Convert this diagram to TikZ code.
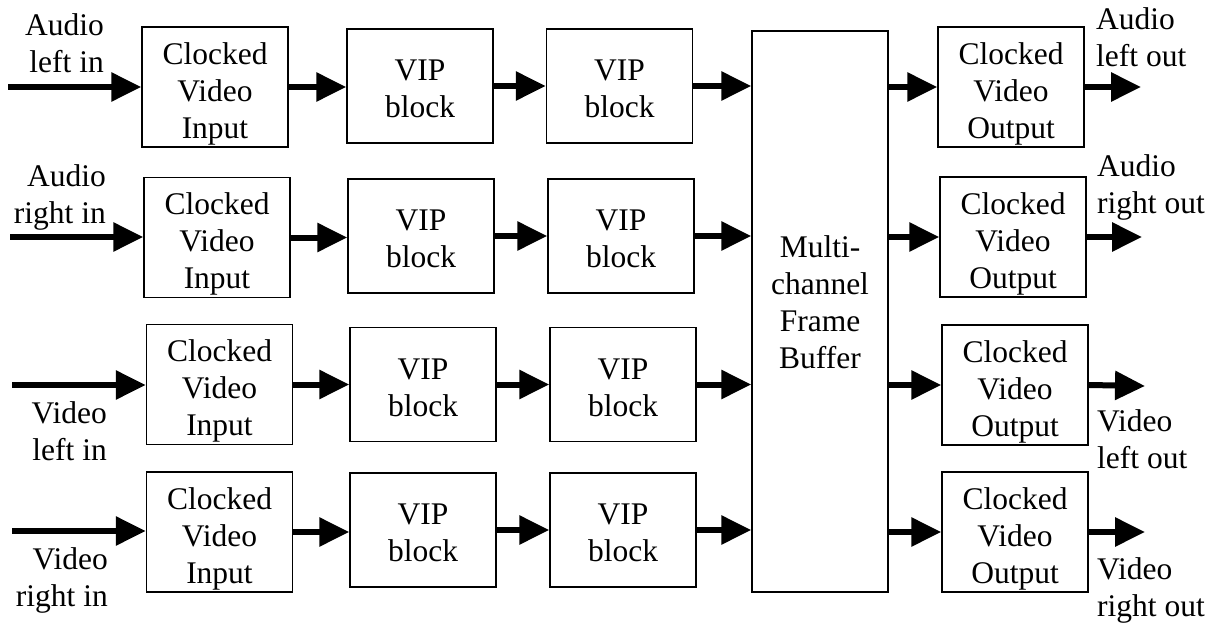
\documentclass[tikz,border=0pt]{standalone}
\usepackage{fontspec}
\setmainfont{Liberation Serif}
\usetikzlibrary{arrows.meta}

\tikzset{
  txt/.style={align=center, inner sep=0pt},
  blk/.style={draw, line width=1.5pt, inner sep=0pt,
    minimum width=146pt, minimum height=120pt,
    label={[txt, yshift=-6.5pt]center:#1}},
  vip/.style={draw, line width=1.5pt, inner sep=0pt,
    minimum width=146pt, minimum height=114pt,
    label={[txt, yshift=-3pt]center:VIP\\block}},
  inlbl/.style={inner sep=0pt, anchor=north east, align=right},
  outlbl/.style={inner sep=0pt, anchor=north west, align=left},
  flow/.style={line width=6pt, -{Triangle[length=30pt,width=28pt]}}
}

\begin{document}
\begin{tikzpicture}[x=1pt,y=-1pt,font=\fontsize{31.5}{37}\selectfont]
\useasboundingbox (0,0) rectangle (1212,623);
% input blocks
\node[blk={Clocked\\Video\\Input}] (cvi1) at (215,87) {};
\node[blk={Clocked\\Video\\Input}] (cvi2) at (217,237.5) {};
\node[blk={Clocked\\Video\\Input}] (cvi3) at (219.5,384.5) {};
\node[blk={Clocked\\Video\\Input}] (cvi4) at (219.5,532) {};
% VIP blocks
\node[vip] (vipa1) at (420,86) {};
\node[vip] (vipb1) at (619.5,86) {};
\node[vip] (vipa2) at (421,236) {};
\node[vip] (vipb2) at (621,236) {};
\node[vip] (vipa3) at (423,384.5) {};
\node[vip] (vipb3) at (623,384.5) {};
\node[vip] (vipa4) at (423,530) {};
\node[vip] (vipb4) at (623,530) {};
% frame buffer
\node[draw, line width=1.5pt, minimum width=136pt, minimum height=561pt] (fb) at (820,311.5) {};
\node[txt] (fbtxt) at (820,302) {Multi-\\channel\\Frame\\Buffer};
% output blocks
\node[blk={Clocked\\Video\\Output}] (cvo1) at (1011,87) {};
\node[blk={Clocked\\Video\\Output}] (cvo2) at (1013,237) {};
\node[blk={Clocked\\Video\\Output}] (cvo3) at (1015,385) {};
\node[blk={Clocked\\Video\\Output}] (cvo4) at (1015,532) {};
% free ends
\coordinate (src1) at (8,87);
\coordinate (src2) at (10,237);
\coordinate (src3) at (12,385);
\coordinate (src4) at (12,531);
\coordinate (dst1) at (1141,87);
\coordinate (dst2) at (1142,237);
\coordinate (dst3) at (1145,386);
\coordinate (dst4) at (1145,532);
% labels
\node[inlbl] (lin1) at (104,13) {Audio\\left in};
\node[inlbl] (lin2) at (106,164.5) {Audio\\right in};
\node[inlbl] (lin3) at (107,401.5) {Video\\left in};
\node[inlbl] (lin4) at (108,547.5) {Video\\right in};
\node[outlbl] (lout1) at (1096,7) {Audio\\left out};
\node[outlbl] (lout2) at (1097,154) {Audio\\right out};
\node[outlbl] (lout3) at (1097,409) {Video\\left out};
\node[outlbl] (lout4) at (1097,557) {Video\\right out};
% connectors
\draw[flow] (src1) -- (src1 -| cvi1.west);
\draw[flow] (src2) -- (src2 -| cvi2.west);
\draw[flow] (src3) -- (src3 -| cvi3.west);
\draw[flow] (src4) -- (src4 -| cvi4.west);
\draw[flow] (cvi1.east) -- (cvi1.east -| vipa1.west);
\draw[flow] (cvi2.east) -- (cvi2.east -| vipa2.west);
\draw[flow] (cvi3.east) -- (cvi3.east -| vipa3.west);
\draw[flow] (cvi4.east) -- (cvi4.east -| vipa4.west);
\draw[flow] (vipa1.east) -- (vipa1.east -| vipb1.west);
\draw[flow] (vipa2.east) -- (vipa2.east -| vipb2.west);
\draw[flow] (vipa3.east) -- (vipa3.east -| vipb3.west);
\draw[flow] (vipa4.east) -- (vipa4.east -| vipb4.west);
\draw[flow] (vipb1.east) -- (vipb1.east -| fb.west);
\draw[flow] (vipb2.east) -- (vipb2.east -| fb.west);
\draw[flow] (vipb3.east) -- (vipb3.east -| fb.west);
\draw[flow] (vipb4.east) -- (vipb4.east -| fb.west);
\draw[flow] (fb.east |- cvo1.west) -- (cvo1.west);
\draw[flow] (fb.east |- cvo2.west) -- (cvo2.west);
\draw[flow] (fb.east |- cvo3.west) -- (cvo3.west);
\draw[flow] (fb.east |- cvo4.west) -- (cvo4.west);
\draw[flow] (cvo1.east) -- (dst1);
\draw[flow] (cvo2.east) -- (dst2);
\draw[flow] (cvo3.east) -- (dst3);
\draw[flow] (cvo4.east) -- (dst4);
\end{tikzpicture}
\end{document}
